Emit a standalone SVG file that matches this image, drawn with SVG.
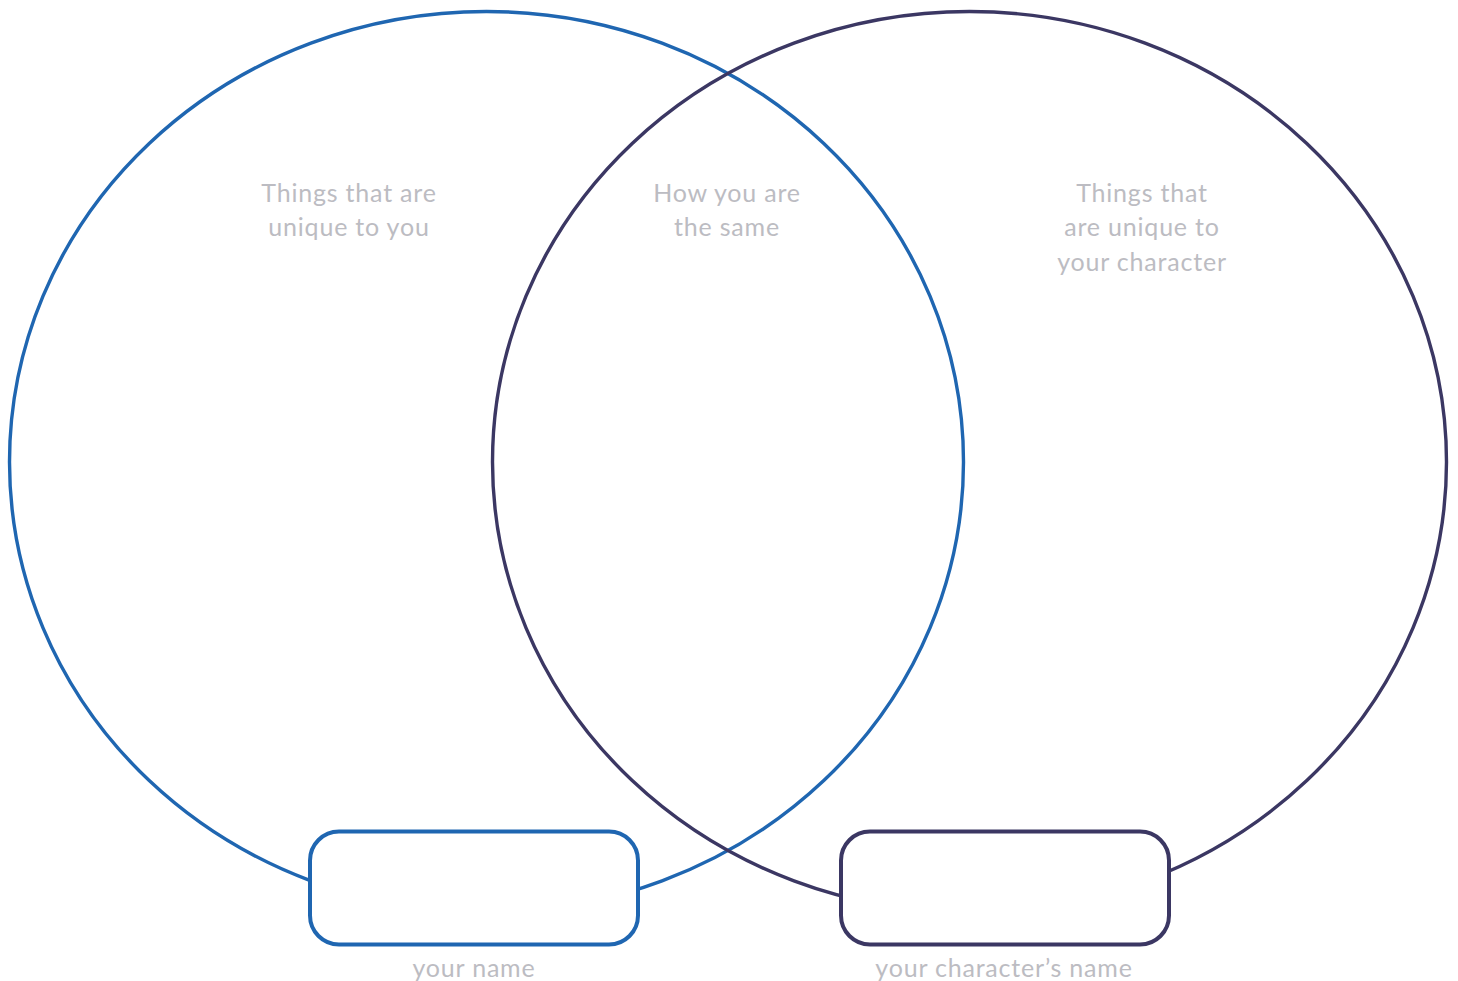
<svg xmlns="http://www.w3.org/2000/svg" width="1458" height="981" viewBox="0 0 1458 981">
<style>
.lbl{font-family:Lato,"Open Sans","Liberation Sans",sans-serif;font-size:25px;letter-spacing:0.8px;fill:#bcbcc2;text-anchor:middle}
.blue{stroke:#1f66b1}
.purple{stroke:#3b3763}
.ring{fill:none;stroke-width:3.4}
.box{fill:#fff;stroke-width:4}
</style>
<rect width="1458" height="981" fill="#fff"/>
<g id="connectors">
<ellipse id="left-circle" class="ring blue" cx="486.5" cy="462" rx="477" ry="450.5"/>
<ellipse id="right-circle" class="ring purple" cx="969.5" cy="462" rx="477" ry="450.5"/>
</g>
<g id="label-you"><text class="lbl" x="349" y="202">Things that are</text><text class="lbl" x="349" y="236">unique to you</text></g>
<g id="label-same"><text class="lbl" x="727" y="202">How you are</text><text class="lbl" x="727" y="236">the same</text></g>
<g id="label-character"><text class="lbl" x="1142" y="202">Things that</text><text class="lbl" x="1142" y="236">are unique to</text><text class="lbl" x="1142" y="271">your character</text></g>
<g id="box-your-name"><rect class="box blue" x="310" y="831.5" width="328" height="113" rx="29"/><text class="lbl" x="474" y="977">your name</text></g>
<g id="box-character-name"><rect class="box purple" x="841" y="831.5" width="328" height="113" rx="29"/><text class="lbl" x="1004" y="977">your character’s name</text></g>
</svg>
